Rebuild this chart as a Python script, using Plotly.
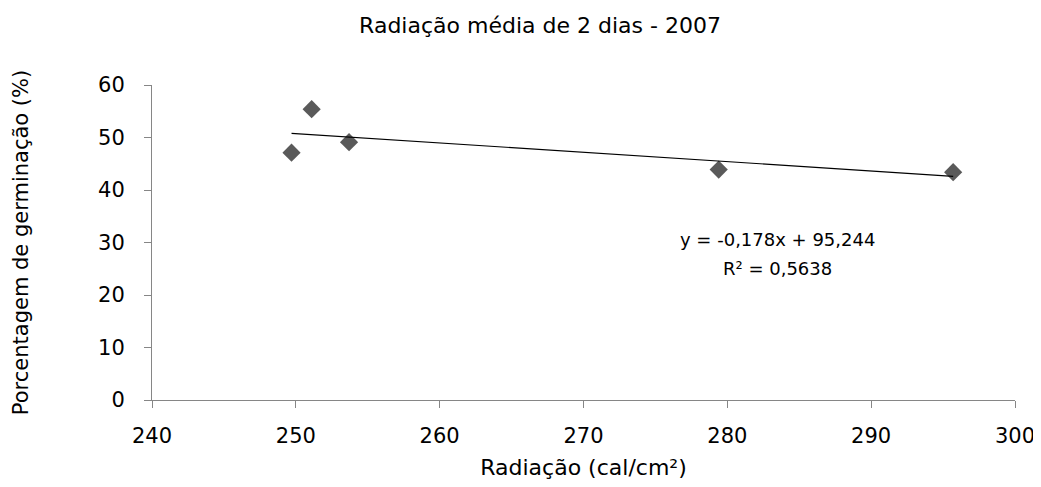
import plotly.graph_objects as go

# Data
radiacao = [249.7, 251.1, 253.7, 279.4, 295.7]
germinacao = [47.1, 55.4, 49.1, 43.9, 43.4]
slope = -0.178
intercept = 95.244
x_ticks = [240, 250, 260, 270, 280, 290, 300]
y_ticks = [0, 10, 20, 30, 40, 50, 60]
eq_text = "y = -0,178x + 95,244"
r2_text = "R² = 0,5638"

x_line = [min(radiacao), max(radiacao)]
y_line = [slope * v + intercept for v in x_line]

font_family = "DejaVu Sans, Arial, sans-serif"

# page body has an 8px default margin, so the figure is sized to fit the window
W, H = 1033, 479

fig = go.Figure()
fig.add_trace(go.Scatter(
    x=radiacao, y=germinacao, mode="markers",
    marker=dict(symbol="diamond", size=14, color="#5a5a5a"),
    showlegend=False,
))
fig.add_trace(go.Scatter(
    x=x_line, y=y_line, mode="lines",
    line=dict(color="black", width=1.2),
    showlegend=False,
))

for txt, yv in [(eq_text, 30.5), (r2_text, 25.1)]:
    fig.add_annotation(
        x=283.5, y=yv, xref="x", yref="y",
        text=txt, showarrow=False, align="center",
        font=dict(family=font_family, size=18, color="black"),
    )

axis_common = dict(
    showgrid=False, zeroline=False, showline=True,
    linecolor="#868686", linewidth=1,
    ticks="outside", tickcolor="#868686", ticklen=7,
    tickfont=dict(family=font_family, size=21, color="black"),
    automargin=False,
)

fig.update_layout(
    width=W, height=H,
    paper_bgcolor="white", plot_bgcolor="white",
    margin=dict(l=144, r=26, t=77, b=87),
    title=dict(
        text="Radiação média de 2 dias - 2007",
        x=532 / W, xanchor="center", xref="container",
        y=1 - 17 / H, yanchor="middle", yref="container",
        font=dict(family=font_family, size=22, color="black"),
        automargin=False,
    ),
    xaxis=dict(
        range=[240, 300], tickvals=x_ticks,
        ticklabelstandoff=10,
        title=dict(text="Radiação (cal/cm²)", standoff=12,
                   font=dict(family=font_family, size=22, color="black")),
        **axis_common,
    ),
    yaxis=dict(
        range=[0, 60], tickvals=y_ticks,
        ticklabelstandoff=15,
        title=dict(text="Porcentagem de germinação (%)", standoff=63,
                   font=dict(family=font_family, size=21, color="black")),
        **axis_common,
    ),
)

fig.write_html("out.html")
